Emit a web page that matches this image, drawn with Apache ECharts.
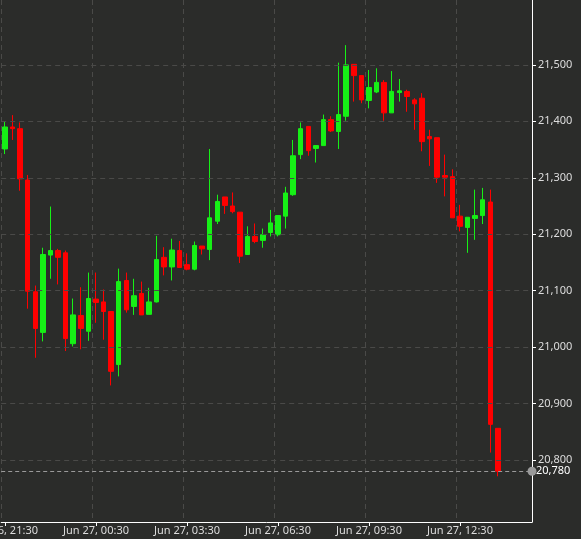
<!DOCTYPE html>
<html>
<head>
<meta charset="utf-8">
<script src="https://cdn.jsdelivr.net/npm/echarts@6/dist/echarts.min.js"></script>
<style>html,body{margin:0;padding:0;background:#2b2c2a;}#chart{width:581px;height:539px;}</style>
</head>
<body>
<div id="chart"></div>
<script>
// 15-minute candles, [open, close, low, high]
var candles = [
  [21351,21390,21342,21400],[21390,21387,21367,21411],[21387,21298,21277,21398],[21296,21099,21068,21305],
  [21098,21033,20981,21109],[21026,21164,21010,21176],[21163,21171,21121,21249],[21171,21159,21111,21174],
  [21167,21015,20993,21171],[21006,21057,21001,21086],[21056,21033,20996,21106],[21028,21086,21011,21132],
  [21085,21079,21043,21132],[21080,21063,21013,21102],[21063,20957,20932,21063],[20969,21116,20948,21139],
  [21118,21066,21061,21132],[21072,21091,21057,21121],[21095,21057,21057,21116],[21058,21080,21058,21105],
  [21080,21155,21079,21197],[21159,21142,21127,21177],[21142,21172,21118,21192],[21171,21141,21141,21188],
  [21146,21138,21136,21166],[21138,21180,21136,21187],[21179,21174,21164,21179],[21173,21229,21154,21351],
  [21223,21258,21218,21270],[21266,21251,21236,21266],[21250,21240,21237,21274],[21239,21161,21149,21239],
  [21164,21196,21164,21214],[21196,21187,21184,21219],[21189,21199,21176,21210],[21203,21220,21196,21243],
  [21199,21233,21196,21233],[21232,21273,21210,21284],[21270,21339,21268,21367],[21341,21387,21333,21398],
  [21391,21348,21339,21391],[21352,21357,21327,21357],[21357,21403,21357,21412],[21403,21383,21381,21409],
  [21382,21412,21351,21504],[21409,21500,21401,21535],[21501,21481,21435,21501],[21481,21438,21432,21481],
  [21437,21460,21423,21491],[21452,21469,21450,21494],[21469,21415,21401,21473],[21415,21453,21415,21489],
  [21451,21454,21435,21475],[21453,21444,21417,21456],[21438,21431,21385,21441],[21441,21364,21347,21450],
  [21373,21369,21321,21385],[21371,21301,21291,21371],[21304,21301,21267,21341],[21302,21229,21229,21315],
  [21232,21214,21205,21252],[21212,21230,21167,21230],[21228,21233,21190,21279],[21233,21261,21218,21282],
  [21257,20863,20813,21279],[20856,20780,20771,20856]
];
var lastPrice = 20780;
var yTicks = [20800,20900,21000,21100,21200,21300,21400,21500];

// time categories: Jun 26 21:30 onward, 15 min steps (4 spare slots on the right)
var times = [];
for (var i = 0; i < 70; i++) {
  var m = 21 * 60 + 30 + i * 15;
  var day = m >= 1440 ? 27 : 26;
  m = m % 1440;
  var hh = Math.floor(m / 60), mm = m % 60;
  times.push('Jun ' + day + ', ' + (hh < 10 ? '0' : '') + hh + ':' + (mm < 10 ? '0' : '') + mm);
}

var chart = echarts.init(document.getElementById('chart'));
chart.setOption({
  backgroundColor: '#2b2c2a',
  animation: false,
  grid: {left: 1.2, right: 49, top: 0, bottom: 17, outerBoundsMode: 'none', containLabel: false},
  xAxis: {
    type: 'category',
    data: times,
    boundaryGap: true,
    axisLine: {lineStyle: {color: '#ffffff', width: 1}},
    axisTick: {show: true, alignWithLabel: true, interval: 11, length: 4, lineStyle: {color: '#ffffff'}},
    axisLabel: {interval: 11, color: '#dddddd', fontFamily: 'Noto Sans', fontSize: 11, margin: 3, hideOverlap: false},
    splitLine: {show: true, interval: 11, lineStyle: {color: '#4a4a48', type: [5, 4]}}
  },
  yAxis: {
    type: 'value',
    position: 'right',
    min: 20690,
    max: 21615,
    axisLine: {show: true, lineStyle: {color: '#ffffff', width: 1}},
    axisTick: {show: true, length: 4, customValues: yTicks, lineStyle: {color: '#ffffff'}},
    axisLabel: {
      customValues: yTicks, color: '#dddddd', fontFamily: 'Noto Sans', fontSize: 11, margin: 6,
      formatter: function (v) { return v.toLocaleString('en-US'); }
    },
    splitLine: {show: false}
  },
  series: [{
    type: 'candlestick',
    data: candles,
    barWidth: 5,
    itemStyle: {color: '#16f016', color0: '#ff0000', borderColor: '#16f016', borderColor0: '#ff0000', borderWidth: 1},
    markLine: {
      silent: true,
      symbol: ['none', 'none'],
      label: {show: false},
      lineStyle: {color: '#4a4a48', type: [5, 4], width: 1},
      data: yTicks.map(function (v) { return {yAxis: v}; })
    }
  }, {
    type: 'line',
    data: [],
    markLine: {
      silent: true,
      symbol: ['none', 'circle'],
      symbolSize: 9,
      lineStyle: {color: '#9a9a9a', type: [4, 3], width: 1},
      itemStyle: {color: '#8a8a8a'},
      label: {show: true, position: 'end', color: '#ffffff', fontFamily: 'Noto Sans', fontSize: 11,
        distance: 4, formatter: function () { return lastPrice.toLocaleString('en-US'); }},
      data: [{yAxis: lastPrice}]
    }
  }]
});
</script>
</body>
</html>
